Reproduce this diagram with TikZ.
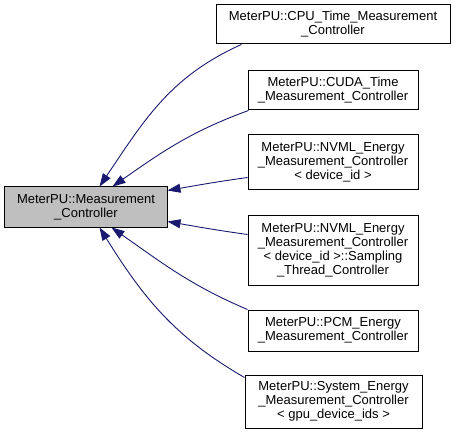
\documentclass[tikz,border=0pt]{standalone}
\usepackage{fontspec}
\setmainfont{Liberation Sans}
\usetikzlibrary{arrows.meta,calc}
\definecolor{edgeblue}{RGB}{25,25,112}
\definecolor{rootgray}{RGB}{191,191,191}
\tikzset{
  cls/.style={draw=black, line width=1bp, rectangle, inner sep=0pt, align=center,
    font=\fontsize{13bp}{14bp}\selectfont},
  edge/.style={draw=edgeblue, line width=0.9bp, -{Triangle[length=13bp,width=9bp]}}
}
\begin{document}
\begin{tikzpicture}[x=1bp,y=-1bp]
\useasboundingbox (0,0) rectangle (456,435);
\node[cls, fill=rootgray, minimum width=162bp, minimum height=40bp] (root) at (86,207)
  {MeterPU::Measurement\\\_Controller};
\node[cls, minimum width=234bp, minimum height=39bp] (cpu) at (333,24.5)
  {MeterPU::CPU\_Time\_Measurement\\\_Controller};
\node[cls, minimum width=170bp, minimum height=39bp] (cuda) at (333,90.5)
  {MeterPU::CUDA\_Time\\\_Measurement\_Controller};
\node[cls, minimum width=170bp, minimum height=55bp] (nvml) at (333,162.5)
  {MeterPU::NVML\_Energy\\\_Measurement\_Controller\\< device\_id >};
\node[cls, minimum width=170bp, minimum height=69bp] (samp) at (333,250.5)
  {MeterPU::NVML\_Energy\\\_Measurement\_Controller\\< device\_id >::Sampling\\\_Thread\_Controller};
\node[cls, minimum width=170bp, minimum height=41bp] (pcm) at (333,330.5)
  {MeterPU::PCM\_Energy\\\_Measurement\_Controller};
\node[cls, minimum width=177bp, minimum height=53bp] (sys) at (333.5,401.5)
  {MeterPU::System\_Energy\\\_Measurement\_Controller\\< gpu\_device\_ids >};

\draw[edge] ([xshift=26bp]cpu.south west) to[out=204,in=56] ([xshift=95bp]root.north west);
\draw[edge] ([xshift=1bp]cuda.south west) to[out=200,in=35] ([xshift=108bp]root.north west);
\draw[edge] ([yshift=-15bp]nvml.west) to[out=188,in=10] ([yshift=-4bp]root.north east);
\draw[edge] ([yshift=-19bp]samp.north west) to[out=172,in=-10] ([yshift=6bp]root.south east);
\draw[edge] (pcm.north west) to[out=157,in=-35] ([xshift=107bp]root.south west);
\draw[edge] ([yshift=-3bp]sys.north west) to[out=150,in=-58] ([xshift=95bp]root.south west);
\end{tikzpicture}
\end{document}
